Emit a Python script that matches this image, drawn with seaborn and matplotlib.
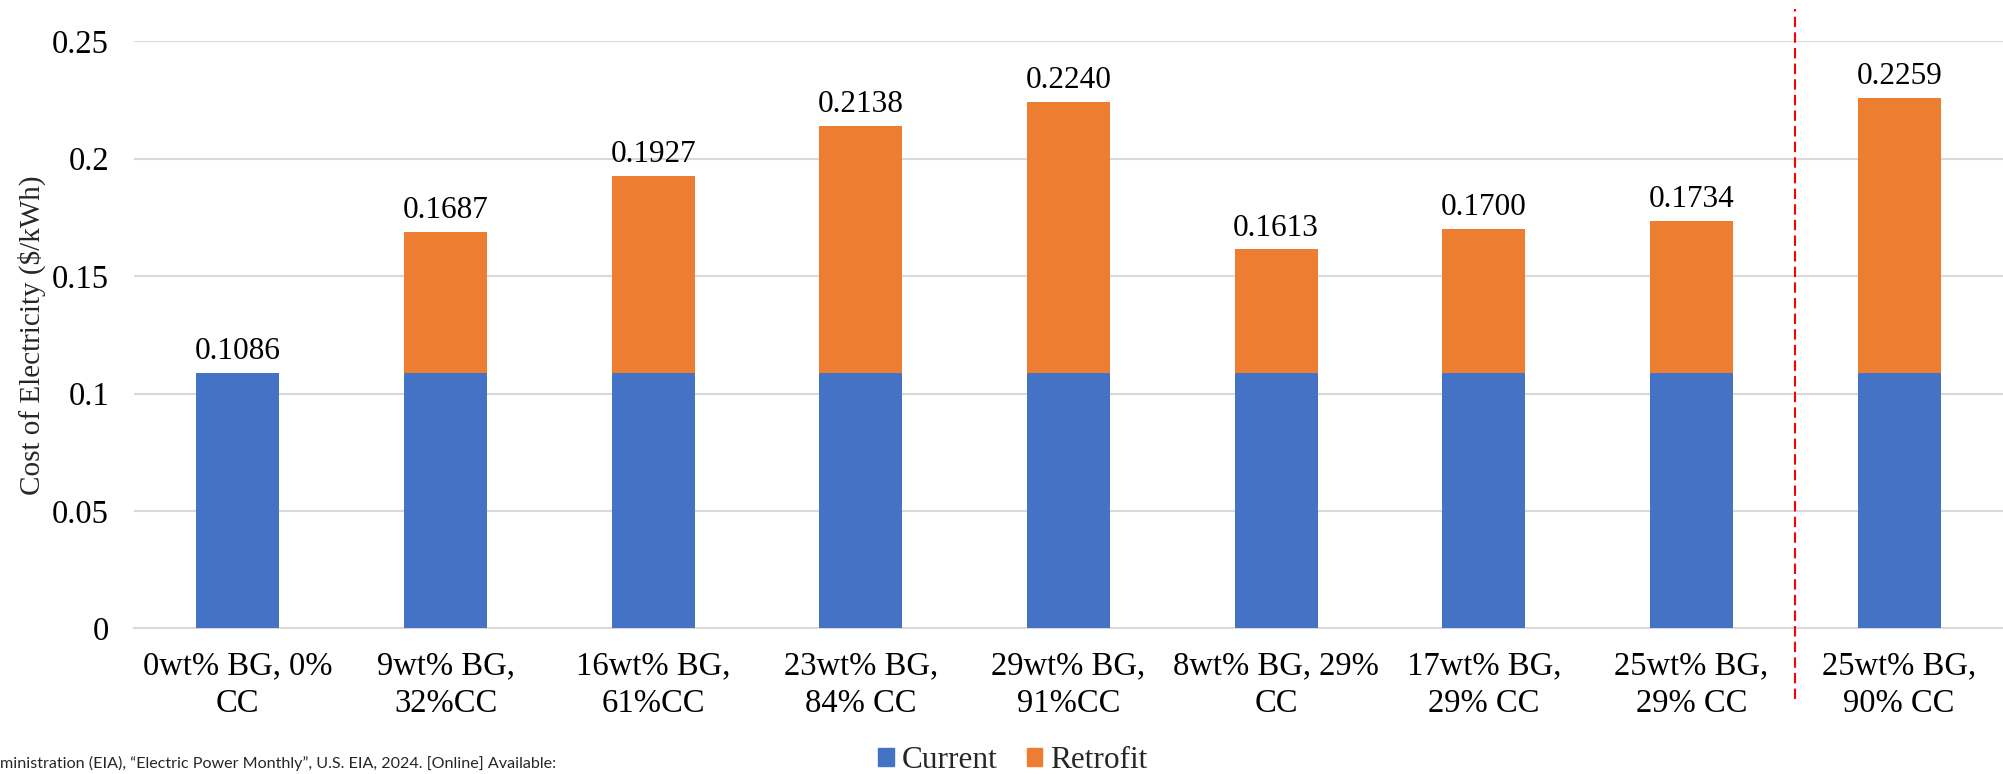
import pandas as pd
import matplotlib
matplotlib.use("Agg")
import matplotlib.pyplot as plt
import seaborn as sns
from matplotlib.patches import Patch
from matplotlib.ticker import FuncFormatter

# Data
categories = ["0wt% BG, 0%\nCC", "9wt% BG,\n32%CC", "16wt% BG,\n61%CC",
              "23wt% BG,\n84% CC", "29wt% BG,\n91%CC", "8wt% BG, 29%\nCC",
              "17wt% BG,\n29% CC", "25wt% BG,\n29% CC", "25wt% BG,\n90% CC"]
current = [0.1086] * 9
totals = [0.1086, 0.1687, 0.1927, 0.2138, 0.2240, 0.1613, 0.1700, 0.1734, 0.2259]
y_ticks = [0, 0.05, 0.1, 0.15, 0.2, 0.25]

BLUE = "#4472C4"
ORANGE = "#ED7D31"
GRID = "#D9D9D9"

df = pd.DataFrame({"case": categories, "current": current, "total": totals})
df["retrofit"] = df["total"] - df["current"]

sns.set_theme(style="white")
plt.rcParams["font.family"] = ["Liberation Serif", "DejaVu Serif"]

fig = plt.figure(figsize=(20.03, 7.74), dpi=100)
ax = fig.add_axes([0.0669, 0.188, 0.9331, 0.759])

# stacked bars: full height in orange, current share in blue on top of it
sns.barplot(data=df, x="case", y="total", color=ORANGE, width=0.4,
            saturation=1, linewidth=0, ax=ax, zorder=2)
sns.barplot(data=df, x="case", y="current", color=BLUE, width=0.4,
            saturation=1, linewidth=0, ax=ax, zorder=3)

# total labels above the bars
for i, v in enumerate(df["total"]):
    ax.annotate(f"{v:.4f}", (i, v), xytext=(0, 5), textcoords="offset points",
                ha="center", va="bottom", fontsize=22.5, color="#000000")

ax.set_xlim(-0.5, len(categories) - 0.5)
ax.set_ylim(0, 0.25)
ax.set_yticks(y_ticks)
ax.yaxis.set_major_formatter(FuncFormatter(lambda v, p: f"{v:g}"))
ax.grid(axis="y", color=GRID, linewidth=1.5, zorder=0)
ax.set_axisbelow(True)
for s in ["top", "right", "left"]:
    ax.spines[s].set_visible(False)
ax.spines["bottom"].set_color(GRID)
ax.spines["bottom"].set_linewidth(1.5)
ax.tick_params(axis="both", length=0, labelsize=23.5, colors="#000000")
ax.tick_params(axis="x", pad=16)
ax.tick_params(axis="y", pad=18)
for lbl in ax.get_xticklabels():
    lbl.set_linespacing(1.3)
ax.set_xlabel("")
ax.set_ylabel("Cost of Electricity ($/kWh)", fontsize=21, labelpad=4)

# red dashed separator before the last case
ax.axvline(7.5, ymin=-0.12, ymax=1.055, color="#FF0000", linewidth=1.5,
           linestyle=(0, (5, 2.5)), clip_on=False, zorder=4)

handles = [Patch(color=BLUE, label="Current"), Patch(color=ORANGE, label="Retrofit")]
fig.legend(handles=handles, loc="center", bbox_to_anchor=(0.5057, 0.017), ncol=2,
           frameon=False, fontsize=22.5, handlelength=0.49, handleheight=0.49,
           handletextpad=0.25, columnspacing=0.95, borderpad=0)

fig.text(0.0, 0.014, "ministration (EIA), \u201cElectric Power Monthly\u201d, U.S. EIA, 2024. [Online] Available:",
         fontsize=11.6, family=["Lato", "DejaVu Sans"], ha="left", va="center")

fig.savefig("out.png", dpi=100)
